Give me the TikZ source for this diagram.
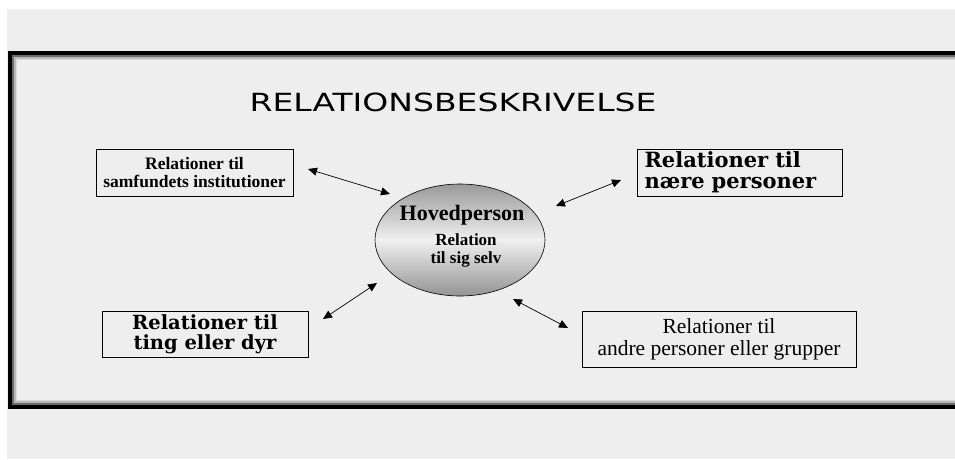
\documentclass[tikz,border=0pt]{standalone}
\usepackage{fontspec}
\setmainfont{Liberation Serif}
\newfontfamily\titlefont{DejaVu Sans}
\newfontfamily\wideserif{DejaVu Serif}
\usetikzlibrary{arrows.meta,shapes.geometric}
\definecolor{bg}{HTML}{EEEEEE}
\tikzset{
  relbox/.style={draw=black, line width=0.8pt, fill=bg, inner sep=0pt, align=center},
  relarrow/.style={{Triangle[length=9pt,width=8pt]}-{Triangle[length=9pt,width=8pt]}, line width=0.7pt}
}
\begin{document}
\begin{tikzpicture}[x=1pt,y=-1pt]
\useasboundingbox (0,0) rectangle (955,459);
\fill[white] (0,0) rectangle (955,459);
\fill[bg] (7,9) rectangle (955,459);
% frame
\draw[line width=4pt, black] (10,53) rectangle (970,407);
\draw[line width=2pt, gray!85!black] (13,56) rectangle (967,404);
\draw[line width=2pt, gray!55] (15,58) rectangle (965,402);
\draw[line width=1pt, gray!30] (16.5,59.5) rectangle (963.5,400.5);
% title
\node[font=\titlefont\fontsize{25}{27}\selectfont, xscale=1.32] (title) at (453,102) {RELATIONSBESKRIVELSE};
% boxes
\node[relbox, font=\fontsize{17.5}{18}\selectfont\bfseries, minimum width=197pt, minimum height=47pt] (b1) at (194.5,172.5) {Relationer til\\samfundets institutioner};
\node[relbox, font=\wideserif\fontsize{21}{21}\selectfont\bfseries, minimum width=205pt, minimum height=47pt, align=left, text width=190pt] (b2) at (739.5,172.5) {Relationer til\\nære personer};
\node[relbox, font=\wideserif\fontsize{19.5}{20}\selectfont\bfseries, minimum width=206pt, minimum height=46pt] (b3) at (205,334) {Relationer til\\ting eller dyr};
\node[relbox, font=\fontsize{21.5}{22}\selectfont, minimum width=274pt, minimum height=56pt] (b4) at (719,339) {Relationer til\\andre personer eller grupper};
% ellipse
\node[ellipse, draw=black, line width=0.6pt, minimum width=170pt, minimum height=112pt, top color=gray!80, bottom color=gray!85, middle color=gray!12, inner sep=0pt] (hp) at (460,240) {};
\node[font=\fontsize{22}{24}\selectfont\bfseries] (hpt) at (462,215) {Hovedperson};
\node[font=\fontsize{17}{18}\selectfont\bfseries, align=center] (hps) at (466,250) {Relation\\til sig selv};
% arrow ends
\coordinate (a1s) at (308,169);
\coordinate (a1e) at (390,194);
\coordinate (a2s) at (621,180);
\coordinate (a2e) at (556,206);
\coordinate (a3s) at (323,319);
\coordinate (a3e) at (377,283);
\coordinate (a4s) at (513,299);
\coordinate (a4e) at (568,328);
\draw[relarrow] (a1s) -- (a1e);
\draw[relarrow] (a2s) -- (a2e);
\draw[relarrow] (a3s) -- (a3e);
\draw[relarrow] (a4s) -- (a4e);
\end{tikzpicture}
\end{document}
